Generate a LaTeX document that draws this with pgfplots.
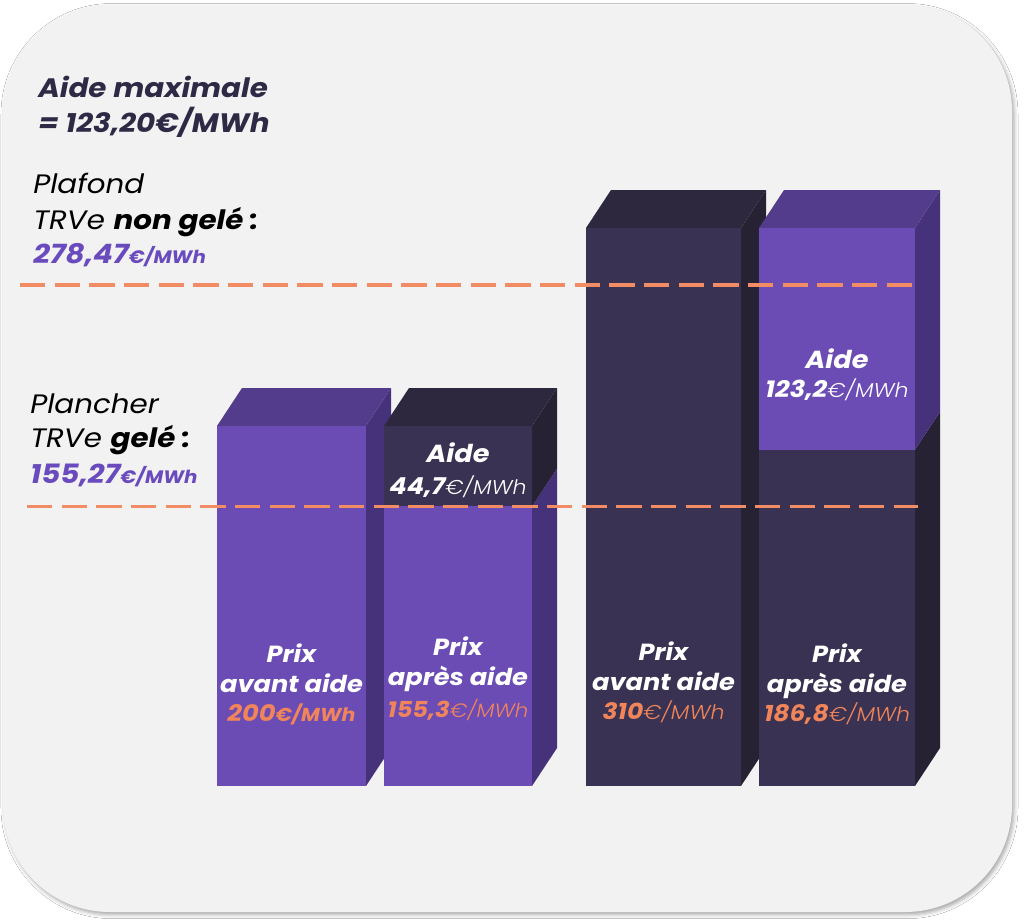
\documentclass[border=0pt]{standalone}
\usepackage{pgfplots}
\pgfplotsset{compat=1.18}
\usetikzlibrary{shadows.blur}
\usepackage{fontspec}
\setmainfont{Poppins}[FakeStretch=1.1]
\newfontfamily\plight{Poppins Light}[ItalicFont={Poppins Light Italic}, FakeStretch=1.1]
\newcommand\fs[1]{\fontsize{#1}{#1}\selectfont}
\newcommand\bi{\bfseries\itshape}
\newcommand\li{\plight\mdseries\itshape}
\newcommand\ri{\normalfont\itshape}
\definecolor{pfront}{HTML}{6B4BB4}
\definecolor{ptop}{HTML}{533C8C}
\definecolor{pside}{HTML}{46327A}
\definecolor{dfront}{HTML}{393252}
\definecolor{dtop}{HTML}{2D283E}
\definecolor{dside}{HTML}{262234}
\definecolor{orng}{HTML}{F0845A}
\definecolor{dashc}{HTML}{F28C64}
\definecolor{ptext}{HTML}{6A4BBE}
\definecolor{head}{HTML}{2E2945}
\definecolor{bg}{HTML}{F2F2F2}
\begin{document}
\begin{tikzpicture}[every node/.append style={inner sep=0pt}]
\begin{axis}[scale only axis, width=768pt, height=692.25pt,
  xmin=0, xmax=1024, ymin=-76.111, ymax=436.667, hide axis, clip=false,
  face/.style={draw=none, fill=#1, mark=none},
  front/.style={ybar, bar shift=0pt, draw=none, fill=#1}]
\fill[white] (rel axis cs:0,0) rectangle (rel axis cs:1,1);
\fill[bg, rounded corners=80pt, blur shadow={shadow xshift=1.5pt, shadow yshift=-2pt, shadow blur radius=3pt, shadow opacity=35}]
  (axis cs:3,-70) rectangle (axis cs:1012,434);

% Bar 1: prix avant aide 200
\addplot[face=pside] coordinates {(366,0) (391,21.1) (391,221.1) (366,200)} -- cycle;
\addplot[face=ptop] coordinates {(217,200) (242,221.1) (391,221.1) (366,200)} -- cycle;
\addplot[front=pfront, bar width=149] coordinates {(291.5,200)};
% Bar 2: prix apres aide 155.3 + aide 44.7
\addplot[face=pside] coordinates {(532,0) (557,21.1) (557,176.4) (532,155.3)} -- cycle;
\addplot[face=dside] coordinates {(532,155.3) (557,176.4) (557,221.1) (532,200)} -- cycle;
\addplot[face=dtop] coordinates {(384,200) (409,221.1) (557,221.1) (532,200)} -- cycle;
\addplot[front=dfront, bar width=148] coordinates {(458,200)};
\addplot[front=pfront, bar width=148] coordinates {(458,155.3)};
% Bar 3: prix avant aide 310
\addplot[face=dside] coordinates {(741,0) (766,21.1) (766,331.1) (741,310)} -- cycle;
\addplot[face=dtop] coordinates {(586,310) (611,331.1) (766,331.1) (741,310)} -- cycle;
\addplot[front=dfront, bar width=155] coordinates {(663.5,310)};
% Bar 4: prix apres aide 186.8 + aide 123.2
\addplot[face=dside] coordinates {(915,0) (940,21.1) (940,207.9) (915,186.8)} -- cycle;
\addplot[face=pside] coordinates {(915,186.8) (940,207.9) (940,331.1) (915,310)} -- cycle;
\addplot[face=ptop] coordinates {(759,310) (784,331.1) (940,331.1) (915,310)} -- cycle;
\addplot[front=pfront, bar width=156] coordinates {(837,310)};
\addplot[front=dfront, bar width=156] coordinates {(837,186.8)};

% dashed thresholds
\addplot[dashc, line width=2.7pt, dash pattern=on 19pt off 7pt, mark=none] coordinates {(20,278.47) (918,278.47)};
\addplot[dashc, line width=2.7pt, dash pattern=on 19pt off 7pt, mark=none] coordinates {(27,155.27) (918,155.27)};

% left texts
\node[anchor=base west, text=head, font=\bi\fs{20}] at (axis cs:38,382.22) {Aide maximale};
\node[anchor=base west, text=head, font=\bi\fs{20}] at (axis cs:38,363.33) {= 123,20€/MWh};
\node[anchor=base west, text=black, font=\ri\fs{20}] at (axis cs:33,328.89) {Plafond};
\node[anchor=base west, text=black, font=\ri\fs{20}] at (axis cs:33,309.44) {TRVe {\bi non gelé :}};
\node[anchor=base west, text=ptext, font=\bi\fs{20}] at (axis cs:33,290.0) {278,47{\fs{13.5}€/MWh}};
\node[anchor=base west, text=black, font=\ri\fs{20}] at (axis cs:30,207.22) {Plancher};
\node[anchor=base west, text=black, font=\ri\fs{20}] at (axis cs:30,187.78) {TRVe {\bi gelé :}};
\node[anchor=base west, text=ptext, font=\bi\fs{20}] at (axis cs:30,168.33) {155,27{\fs{13.5}€/MWh}};

% bar texts
\node[anchor=base, text=white, font=\bi\fs{17.5}] at (axis cs:291.5,68.89) {Prix};
\node[anchor=base, text=white, font=\bi\fs{17.5}] at (axis cs:291.5,52.22) {avant aide};
\node[anchor=base, text=orng, font=\bi\fs{17.5}] at (axis cs:291.5,35.56) {200{\fs{14}€/MWh}};

\node[anchor=base, text=white, font=\bi\fs{17.5}] at (axis cs:458,72.78) {Prix};
\node[anchor=base, text=white, font=\bi\fs{17.5}] at (axis cs:458,56.11) {après aide};
\node[anchor=base, text=orng, font=\bi\fs{16.5}] at (axis cs:458,38.33) {155,3{\li\fs{14.5}€/MWh}};
\node[anchor=base, text=white, font=\bi\fs{18.5}] at (axis cs:458,180.0) {Aide};
\node[anchor=base, text=white, font=\bi\fs{17.5}] at (axis cs:458,162.22) {44,7{\li\fs{15}€/MWh}};

\node[anchor=base, text=white, font=\bi\fs{17.5}] at (axis cs:663.5,70.0) {Prix};
\node[anchor=base, text=white, font=\bi\fs{17.5}] at (axis cs:663.5,53.33) {avant aide};
\node[anchor=base, text=orng, font=\bi\fs{17}] at (axis cs:663.5,36.67) {310{\li\fs{15}€/MWh}};

\node[anchor=base, text=white, font=\bi\fs{17.5}] at (axis cs:837,68.89) {Prix};
\node[anchor=base, text=white, font=\bi\fs{17.5}] at (axis cs:837,52.22) {après aide};
\node[anchor=base, text=orng, font=\bi\fs{17}] at (axis cs:837,35.56) {186,8{\li\fs{15}€/MWh}};
\node[anchor=base, text=white, font=\bi\fs{18.5}] at (axis cs:837,232.22) {Aide};
\node[anchor=base, text=white, font=\bi\fs{17.5}] at (axis cs:837,215.56) {123,2{\li\fs{15}€/MWh}};
\end{axis}
\end{tikzpicture}
\end{document}
